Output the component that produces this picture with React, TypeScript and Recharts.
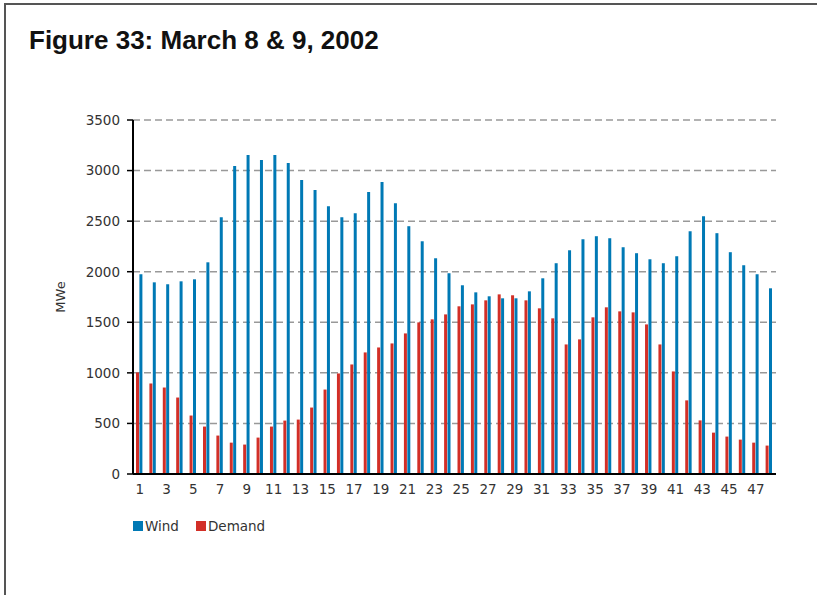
import React from 'react';
import { BarChart, Bar, XAxis, YAxis, CartesianGrid } from 'recharts';

// half-hour periods over the two days
const periods = [
  '1', '2', '3', '4', '5', '6', '7', '8', '9', '10', '11', '12',
  '13', '14', '15', '16', '17', '18', '19', '20', '21', '22', '23', '24',
  '25', '26', '27', '28', '29', '30', '31', '32', '33', '34', '35', '36',
  '37', '38', '39', '40', '41', '42', '43', '44', '45', '46', '47', '48',
];

const wind = [
  1975, 1895, 1876, 1905, 1925, 2093, 2539, 3044, 3153, 3104, 3153, 3074,
  2906, 2807, 2648, 2539, 2579, 2787, 2886, 2678, 2450, 2301, 2133, 1985,
  1866, 1796, 1757, 1737, 1737, 1806, 1935, 2084, 2212, 2321, 2351, 2331,
  2242, 2183, 2123, 2084, 2153, 2400, 2549, 2381, 2193, 2064, 1975, 1836,
];

const demand = [
  1004, 895, 855, 756, 578, 469, 380, 310, 291, 360, 469, 528,
  538, 657, 835, 994, 1083, 1202, 1251, 1291, 1390, 1499, 1529, 1578,
  1658, 1677, 1717, 1776, 1767, 1717, 1638, 1539, 1281, 1331, 1549, 1648,
  1608, 1598, 1479, 1281, 1014, 728, 530, 409, 370, 340, 310, 281,
];

const yTicks = [0, 500, 1000, 1500, 2000, 2500, 3000, 3500];

const WIND = '#0079b5';
const DEMAND = '#d22f27';

const legendItems = [
  { name: 'Wind', color: WIND },
  { name: 'Demand', color: DEMAND },
];

const data = periods.map((p, i) => ({ period: p, wind: wind[i], demand: demand[i] }));

const tickStyle = { fontFamily: '"DejaVu Sans", sans-serif', fontSize: 13.5, fill: '#333' };

export default function App() {
  return (
    <div style={{ position: 'absolute', left: 0, top: 0, width: 817, height: 595, background: '#fff', overflow: 'hidden' }}>
      {/* frame: top and left edges only */}
      <div style={{ position: 'absolute', left: 4, top: 3, right: 0, bottom: 0, borderTop: '2px solid #555', borderLeft: '2px solid #555' }} />

      <div style={{
        position: 'absolute', left: 29, top: 25, fontFamily: '"Liberation Sans", Arial, sans-serif',
        fontWeight: 'bold', fontSize: 26, color: '#111', whiteSpace: 'nowrap',
      }}>
        Figure 33: March 8 &amp; 9, 2002
      </div>

      <div style={{ position: 'absolute', left: 0, top: 0 }}>
        <BarChart
          width={817}
          height={520}
          data={data}
          margin={{ top: 120, right: 41, bottom: 16, left: 73 }}
          barSize={3}
          barGap={0.4}
        >
          <CartesianGrid vertical={false} horizontalValues={yTicks.slice(1)} stroke="#999" strokeWidth={1.5} strokeDasharray="7 4" />
          <XAxis
            dataKey="period"
            interval={1}
            height={30}
            tickLine={false}
            tickMargin={4}
            axisLine={{ stroke: '#000', strokeWidth: 2 }}
            tick={tickStyle}
          />
          <YAxis
            width={60}
            domain={[0, 3500]}
            ticks={yTicks}
            interval={0}
            tickSize={6}
            tickMargin={7}
            tickLine={{ stroke: '#000', strokeWidth: 1.5 }}
            axisLine={{ stroke: '#000', strokeWidth: 2 }}
            tick={tickStyle}
            label={{
              value: 'MWe', angle: -90, position: 'insideLeft', offset: 0, dx: -13,
              style: { fontFamily: '"DejaVu Sans", sans-serif', fontSize: 13, fill: '#333', textAnchor: 'middle' },
            }}
          />
          <Bar dataKey="demand" name="Demand" fill={DEMAND} isAnimationActive={false} />
          <Bar dataKey="wind" name="Wind" fill={WIND} isAnimationActive={false} />
        </BarChart>
      </div>

      <div style={{ position: 'absolute', left: 133, top: 518, display: 'flex', fontFamily: '"DejaVu Sans", sans-serif', fontSize: 13.5, color: '#333' }}>
        {legendItems.map((it) => (
          <div key={it.name} style={{ display: 'flex', alignItems: 'center', marginRight: 17 }}>
            <span style={{ width: 10, height: 10, background: it.color, display: 'inline-block', marginRight: 2 }} />
            <span>{it.name}</span>
          </div>
        ))}
      </div>
    </div>
  );
}
